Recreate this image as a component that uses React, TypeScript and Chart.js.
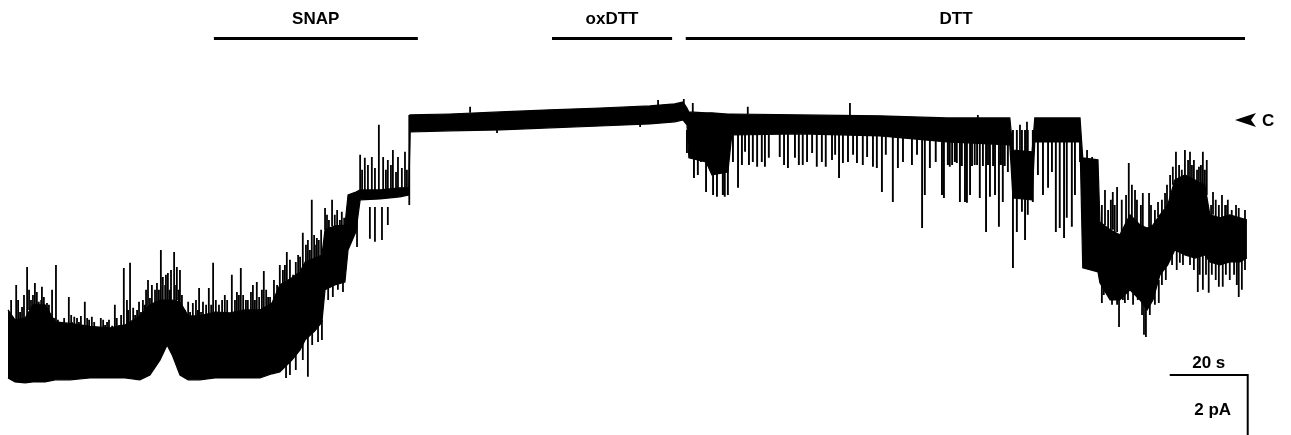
import React, { useEffect, useRef } from 'react';
import { Chart, registerables } from 'chart.js';

Chart.register(...registerables);

// ---- axis ranges (time in s, current in pA; 0 pA = closed level) ----
const timeRange = [-2.05, 329.0];
const currentRange = [-10.57, 3.93];

// ---- dense core of the recording: time, upper and lower envelope ----
const coreT = [0, 1.8, 4.4, 6.4, 9.5, 12.1, 15.9, 21.0, 26.2, 30.0, 33.8, 36.4, 39.0, 40.8, 42.1, 44.1, 46.2, 49.2, 53.1, 56.9, 60.8, 64.6, 67.7, 69.7, 72.8, 74.9, 76.2, 78.7, 80.5, 81.3, 83.8, 86.4, 87.2, 89.2, 90.3, 95.4, 100.5, 102.8, 103.1, 113.3, 126.2, 139.0, 151.8, 164.6, 171.0, 173.1, 174.1, 174.6, 179.0, 180.5, 184.6, 185.6, 203.1, 223.6, 240.8, 256.9, 257.7, 262.6, 263.3, 274.9, 275.6, 279.5, 280.0, 282.6, 285.1, 287.7, 290.3, 292.1, 293.6, 295.4, 297.4, 299.2, 301.8, 304.4, 306.9, 308.2, 310.8, 313.3, 315.9, 317.7];
const coreHi = [-6.4, -6.73, -6.67, -6.23, -6.23, -6.8, -6.85, -6.95, -7.0, -6.9, -6.6, -6.23, -6.07, -6.07, -6.07, -6.13, -6.6, -6.6, -6.47, -6.5, -6.4, -6.4, -6.17, -5.57, -5.33, -5.13, -4.8, -4.67, -4.57, -3.73, -3.6, -3.57, -2.57, -2.47, -2.4, -2.4, -2.33, -2.33, 0.1, 0.13, 0.2, 0.27, 0.33, 0.4, 0.47, 0.53, 0.33, 0.2, 0.17, 0.17, 0.13, 0.13, 0.1, 0.07, 0, 0, -1.07, -1.13, 0, 0, -1.33, -1.4, -3.47, -3.73, -3.9, -3.23, -3.57, -3.67, -3.57, -3.23, -2.9, -2.07, -1.9, -2.07, -2.23, -3.23, -3.33, -3.23, -3.33, -3.4];
const coreLo = [-8.67, -8.8, -8.83, -8.8, -8.8, -8.73, -8.73, -8.67, -8.67, -8.67, -8.73, -8.57, -8.07, -7.57, -7.9, -8.57, -8.73, -8.73, -8.67, -8.67, -8.67, -8.67, -8.53, -8.47, -8.07, -7.73, -7.4, -7.1, -6.8, -5.73, -5.57, -5.47, -4.4, -3.8, -2.73, -2.7, -2.63, -2.57, -0.47, -0.43, -0.4, -0.33, -0.27, -0.2, -0.13, -0.07, -0.23, -1.33, -1.47, -1.9, -1.8, -0.57, -0.53, -0.6, -0.8, -0.9, -2.67, -2.73, -0.8, -0.8, -5.0, -5.13, -5.5, -6.07, -6.07, -5.73, -6.07, -6.4, -6.07, -5.23, -4.9, -4.4, -4.57, -4.67, -4.57, -4.8, -4.9, -4.8, -4.8, -4.67];

// ---- flicker fringe above the many-channel baseline: [time, tip], from baselineBase ----
const baselineBase = -7.5;
const baselineFringe: number[][] = [
  [0.8, -6.07], [1.3, -6.67], [2.6, -6.07], [3.1, -6.47], [4.1, -5.9], [5.9, -6.07], [6.4, -5.9], [7.4, -5.8], [8.5, -6.07],
  [9.2, -5.97], [10.5, -6.23], [10.8, -6.57], [11.8, -6.67], [12.8, -6.73], [13.3, -6.8], [14.4, -6.67], [14.9, -6.9],
  [16.2, -6.57], [16.4, -6.8], [18.2, -6.8], [18.7, -6.6], [19.2, -6.9], [20.3, -6.67], [22.1, -6.8], [22.6, -7.0],
  [23.8, -6.67], [24.9, -6.9], [25.9, -6.73], [26.7, -6.93], [27.9, -6.67], [28.5, -6.9], [29.0, -6.57], [30.5, -6.07],
  [30.8, -6.4], [32.6, -6.57], [33.6, -6.13], [34.1, -6.47], [35.1, -6.23], [35.4, -5.73], [36.4, -6.0], [37.7, -5.73],
  [38.2, -5.5], [38.7, -5.73], [40.3, -5.57], [40.5, -5.23], [41.5, -5.73], [43.1, -5.57], [43.8, -5.73], [44.6, -5.9],
  [45.4, -6.4], [46.7, -6.47], [48.2, -6.07], [48.7, -6.4], [49.5, -6.47], [50.8, -6.23], [52.1, -6.23], [53.3, -6.07],
  [54.1, -6.23], [55.6, -5.9], [56.2, -6.07], [58.2, -6.07], [58.7, -5.8], [59.2, -5.9], [60.3, -5.9], [61.0, -6.07],
  [62.3, -5.8], [63.3, -6.07], [64.4, -5.97], [65.1, -5.73], [66.2, -5.73], [66.7, -5.97], [68.2, -5.4], [69.0, -5.57]
];

// ---- brief transitions: [time, from, to] ----
const baselineSpikes: number[][] = [
  [2.1, -6.73, -5.57], [3.6, -6.73, -6.3], [4.9, -6.73, -4.97], [5.4, -6.4, -5.73], [6.9, -6.4, -5.5],
  [7.9, -6.4, -6.13], [8.7, -6.4, -5.63], [10.0, -6.4, -6.17], [11.3, -6.9, -5.73], [12.3, -7.07, -4.9],
  [13.8, -7.13, -6.9], [15.6, -7.13, -5.97], [17.0, -7.13, -6.63], [17.7, -7.13, -6.67], [19.7, -7.23, -6.13],
  [20.8, -7.23, -6.73], [21.5, -7.23, -6.63], [23.3, -7.27, -6.97], [24.4, -7.27, -6.73], [25.4, -7.27, -6.8],
  [27.4, -7.27, -6.23], [29.7, -7.2, -5.0], [31.3, -7.2, -4.83], [32.1, -7.07, -6.33], [33.1, -6.9, -6.4],
  [34.6, -6.57, -6.07], [35.9, -6.4, -5.4], [36.9, -6.23, -5.57], [39.2, -6.07, -4.4], [39.7, -6.07, -5.3],
  [41.0, -6.07, -5.17], [41.8, -6.07, -5.07], [42.6, -6.07, -4.47], [43.3, -6.07, -4.97], [44.1, -6.13, -5.07],
  [46.2, -6.67, -6.13], [47.4, -6.67, -6.17], [49.0, -6.67, -5.67], [50.0, -6.67, -6.13]
];
const snapSpikes: number[][] = [
  [51.5, -6.57, -5.67], [52.6, -6.57, -4.83], [54.9, -6.57, -6.07], [57.4, -6.57, -5.23], [59.7, -6.47, -5.0],
  [61.5, -6.4, -6.07], [62.8, -6.4, -5.57], [63.8, -6.4, -5.47], [65.6, -6.4, -5.1], [67.2, -6.23, -5.97],
  [69.7, -5.57, -4.9], [71.5, -5.43, -4.47], [74.9, -5.13, -4.63], [75.6, -5.0, -3.83], [76.9, -7.23, -8.63],
  [77.9, -4.73, -2.73], [79.2, -4.67, -4.0], [80.5, -6.73, -7.4], [81.3, -3.73, -3.0], [83.1, -3.6, -2.73],
  [89.5, -2.97, -4.3], [90.3, -2.4, -1.23], [90.8, -2.4, -1.73], [91.5, -2.4, -1.33], [92.3, -2.4, -1.57],
  [92.8, -2.97, -4.03], [93.3, -2.4, -1.3], [94.1, -2.4, -1.67], [94.1, -2.97, -4.13], [95.1, -2.4, -0.23],
  [95.9, -2.97, -4.07], [96.2, -2.4, -1.3], [96.9, -2.4, -1.73], [97.4, -2.4, -1.4], [97.4, -2.97, -3.57],
  [98.2, -2.4, -1.57], [98.7, -2.4, -1.07], [99.5, -2.4, -1.8], [100.0, -2.4, -1.3], [101.0, -2.4, -1.67],
  [101.8, -2.4, -1.13], [102.3, -2.4, -1.73], [102.9, 0.1, -2.9]
];
const risingSpikes: number[][] = [
  [70.5, -6.73, -5.07], [71.0, -6.73, -4.9], [72.3, -6.73, -4.73], [73.1, -6.73, -5.23], [73.8, -6.73, -4.8],
  [74.4, -6.73, -4.57], [76.4, -5.9, -4.23], [76.9, -5.9, -4.07], [77.4, -5.9, -4.4], [78.5, -5.9, -3.9],
  [79.0, -5.9, -4.23], [79.7, -5.9, -4.07], [80.3, -5.9, -3.73], [81.8, -4.73, -3.23], [82.3, -4.73, -3.4],
  [83.8, -4.73, -3.23], [84.4, -4.73, -3.07], [85.1, -4.73, -3.4], [85.6, -4.73, -3.13], [86.2, -4.73, -3.33],
  [71.3, -6.73, -8.67], [72.3, -6.73, -8.57], [73.8, -6.73, -8.4], [75.6, -6.73, -8.07], [78.0, -5.73, -7.57],
  [79.5, -5.73, -7.47], [82.1, -4.57, -6.07], [83.3, -4.57, -5.97], [84.6, -4.57, -5.73], [85.9, -4.57, -5.8]
];
const plateauSpikes: number[][] = [
  [118.5, 0.17, 0.37], [125.4, -0.33, -0.5], [162.1, -0.2, -0.3], [166.7, 0.4, 0.6], [173.3, 0.47, 0.63],
  [175.6, 0.2, 0.5], [189.7, 0.13, 0.37], [215.9, 0.1, 0.5], [248.7, 0, 0.1], [259.5, -1.13, -0.23], [261.3, -1.13, -0.13]
];
const lateSpikes: number[][] = [
  [276.7, -1.57, -1.07], [278.0, -1.57, -1.3], [280.5, -5.57, -6.17], [281.3, -3.57, -2.4], [283.3, -3.73, -2.47],
  [284.4, -3.8, -2.3], [284.9, -6.0, -6.97], [286.4, -5.9, -6.17], [287.4, -3.33, -1.5], [289.0, -3.4, -2.4],
  [291.0, -3.6, -2.5], [291.3, -6.23, -7.23], [291.8, -6.23, -7.3], [292.6, -3.63, -2.5], [294.9, -3.3, -2.8],
  [295.1, -5.4, -6.17], [296.7, -3.0, -2.5], [298.7, -2.23, -1.63], [299.5, -2.07, -1.13], [300.5, -4.47, -4.83],
  [301.8, -1.9, -1.07], [303.1, -2.0, -1.13], [304.1, -2.07, -1.4], [305.1, -4.6, -5.8], [305.4, -2.13, -1.63],
  [306.4, -2.23, -1.13], [306.4, -4.57, -5.73], [307.4, -2.57, -1.4], [307.9, -4.7, -5.83], [309.0, -3.23, -2.47],
  [310.5, -4.87, -5.63], [311.3, -3.3, -2.57], [311.5, -4.87, -5.63], [312.6, -3.27, -2.9], [315.6, -4.8, -5.97],
  [316.4, -4.73, -5.73]
];
const lateFringe: number[][] = [
  [280.5, -4.6, -2.9], [282.1, -4.6, -3.07], [282.8, -4.6, -2.73], [283.8, -4.6, -2.9], [285.6, -4.6, -2.73],
  [286.7, -4.6, -2.57], [288.2, -4.6, -2.23], [289.5, -4.6, -2.73], [290.5, -4.6, -2.9], [293.1, -4.6, -2.9],
  [294.1, -4.6, -3.07], [295.9, -4.6, -2.73], [297.2, -3.6, -2.23], [298.0, -3.6, -1.9], [300.3, -3.6, -1.57],
  [301.0, -3.6, -1.73], [302.6, -3.6, -1.4], [303.6, -3.6, -1.57], [304.9, -3.6, -1.73], [305.9, -3.6, -1.57],
  [306.9, -3.6, -1.73], [308.5, -3.6, -2.9], [309.7, -3.6, -2.73], [310.5, -3.6, -2.9], [312.1, -3.6, -2.9],
  [312.8, -3.6, -2.73], [313.8, -3.6, -3.07], [314.9, -3.6, -2.9], [315.6, -3.6, -3.0], [317.2, -3.6, -3.07],
  [281.0, -4.6, -5.9], [283.1, -4.6, -6.23], [284.4, -4.6, -6.23], [285.9, -4.6, -6.07], [287.2, -4.6, -6.07],
  [288.5, -4.6, -6.23], [289.7, -4.6, -6.07], [290.8, -4.6, -6.57], [292.8, -4.6, -6.57], [294.1, -4.6, -6.23],
  [295.9, -4.6, -5.57], [296.9, -3.6, -5.4], [298.5, -3.6, -4.9], [299.7, -3.6, -5.07], [301.3, -3.6, -4.9],
  [303.1, -3.6, -4.9], [304.1, -3.6, -5.07], [305.6, -3.6, -5.23], [307.2, -3.6, -5.23], [308.7, -3.6, -5.23],
  [309.7, -3.6, -5.4], [312.3, -3.6, -5.23], [313.3, -3.6, -5.4], [314.4, -3.6, -5.23], [315.1, -3.6, -5.57],
  [317.2, -3.6, -5.07]
];

// ---- openings from the closed band during DTT: [time, current] ----
const closedBase = -0.4;
const dttEvents: number[][] = [
  [174.1, -1.17], [175.9, -2.0], [176.9, -1.9], [177.7, -1.47], [179.0, -2.47], [179.7, -1.47], [180.8, -2.57], [181.8, -2.63],
  [183.3, -2.57], [183.8, -2.63], [184.6, -2.57], [185.9, -1.47], [187.2, -2.33], [188.2, -1.57], [189.0, -1.13], [190.0, -1.57],
  [191.0, -1.47], [192.1, -1.63], [193.3, -1.47], [194.1, -1.63], [195.1, -1.33], [197.9, -1.3], [199.0, -1.57], [200.0, -1.67],
  [201.8, -1.33], [202.8, -1.57], [203.8, -1.57], [204.9, -1.47], [206.2, -1.17], [207.4, -1.63], [208.7, -1.47], [209.7, -1.63],
  [211.3, -1.4], [212.1, -1.23], [213.1, -2.0], [214.1, -1.5], [215.4, -1.47], [216.7, -1.23], [217.7, -1.5], [219.2, -1.57],
  [220.3, -1.3], [221.8, -1.63], [222.8, -1.67], [224.1, -2.47], [225.1, -1.23], [226.9, -2.8], [228.2, -1.67], [229.5, -1.47],
  [231.8, -1.57], [233.1, -1.23], [234.4, -3.67], [235.1, -2.57], [236.4, -1.67], [237.9, -1.47], [239.5, -2.57], [240.0, -2.67],
  [241.0, -1.57], [241.5, -1.63], [242.1, -1.57], [242.8, -1.47], [243.3, -1.5], [244.1, -2.8], [244.6, -1.6], [245.4, -2.8],
  [245.9, -2.83], [246.7, -2.57], [247.2, -1.6], [247.9, -1.57], [248.5, -1.57], [249.2, -2.67], [250.0, -1.6], [250.8, -3.8],
  [251.3, -1.57], [251.8, -2.63], [252.6, -1.6], [253.1, -2.57], [254.1, -3.63], [254.6, -1.57], [255.1, -2.8], [255.6, -1.6],
  [256.4, -1.8], [257.7, -5.0], [258.7, -3.8], [260.0, -3.13], [260.8, -4.07], [261.5, -3.23], [262.8, -2.8], [264.1, -1.9],
  [265.4, -2.57], [266.7, -2.33], [267.7, -1.8], [268.7, -3.8], [269.7, -3.67], [270.8, -4.0], [271.5, -3.33], [272.8, -3.63],
  [273.6, -2.57], [274.9, -1.47]
];

// ---- annotations ----
const treatmentLabels = ['SNAP', 'oxDTT', 'DTT'];
const treatmentStart = [52.8, 139.5, 173.8];
const treatmentEnd = [105.1, 170.3, 317.2];
const treatmentLabelAt = [78.9, 154.9, 243.1];
const scaleBarSeconds = 20;
const scaleBarPA = 2;
const scaleBarT0 = 297.9;
const scaleBarI0 = -8.57;
const closedLevel = -0.07;

const FONT = 'bold 17px "Liberation Sans", Arial, Helvetica, sans-serif';

const annotationPlugin = {
  id: 'traceAnnotations',
  afterDatasetsDraw(chart: any) {
    const { ctx } = chart;
    const xs = chart.scales.x;
    const ys = chart.scales.y;
    ctx.save();
    ctx.fillStyle = '#000';
    ctx.strokeStyle = '#000';
    ctx.font = FONT;
    ctx.textAlign = 'center';
    ctx.textBaseline = 'alphabetic';
    treatmentLabels.forEach((label, i) => {
      const x0 = xs.getPixelForValue(treatmentStart[i]);
      const x1 = xs.getPixelForValue(treatmentEnd[i]);
      ctx.fillRect(x0, 37, x1 - x0, 3);
      ctx.fillText(label, xs.getPixelForValue(treatmentLabelAt[i]), 24);
    });
    const sx0 = xs.getPixelForValue(scaleBarT0);
    const sx1 = xs.getPixelForValue(scaleBarT0 + scaleBarSeconds);
    const sy0 = ys.getPixelForValue(scaleBarI0);
    const sy1 = ys.getPixelForValue(scaleBarI0 - scaleBarPA);
    ctx.lineWidth = 2;
    ctx.beginPath();
    ctx.moveTo(sx0, sy0);
    ctx.lineTo(sx1, sy0);
    ctx.lineTo(sx1, sy1);
    ctx.stroke();
    ctx.fillText(`${scaleBarSeconds} s`, (sx0 + sx1) / 2, sy0 - 7);
    ctx.fillText(`${scaleBarPA} pA`, sx1 - 35, sy0 + 40);
    const ay = ys.getPixelForValue(closedLevel);
    const ax = 1235;
    ctx.beginPath();
    ctx.moveTo(ax, ay);
    ctx.lineTo(ax + 21, ay - 7);
    ctx.lineTo(ax + 16, ay);
    ctx.lineTo(ax + 21, ay + 7);
    ctx.closePath();
    ctx.fill();
    ctx.textAlign = 'left';
    ctx.fillText('C', ax + 27, ay + 6);
    ctx.restore();
  },
};

type Pt = { x: number; y: number | null };

function segments(list: number[][]): Pt[] {
  const out: Pt[] = [];
  list.forEach(([t, a, b]) => out.push({ x: t, y: a }, { x: t, y: b }, { x: t, y: null }));
  return out;
}

export default function App() {
  const canvasRef = useRef<HTMLCanvasElement | null>(null);

  useEffect(() => {
    if (!canvasRef.current) return;
    const upper = coreT.map((t, i) => ({ x: t, y: coreHi[i] }));
    const lower = coreT.map((t, i) => ({ x: t, y: coreLo[i] }));
    const spikePts = segments([
      ...baselineSpikes, ...snapSpikes, ...risingSpikes, ...plateauSpikes, ...lateSpikes, ...lateFringe,
      ...baselineFringe.map(([t, b]) => [t, baselineBase, b]),
    ]);
    const eventPts = segments(dttEvents.map(([t, b]) => [t, closedBase, b]));

    const lineDefaults = { borderColor: '#000', pointRadius: 0, fill: false, tension: 0, spanGaps: false };
    const chart = new Chart(canvasRef.current, {
      type: 'line',
      data: {
        datasets: [
          { ...lineDefaults, data: upper, borderWidth: 1.2 },
          { ...lineDefaults, data: lower, borderWidth: 1.2, fill: '-1', backgroundColor: '#000' },
          { ...lineDefaults, data: spikePts as any, borderWidth: 1.8 },
          { ...lineDefaults, data: eventPts as any, borderWidth: 1.9 },
        ],
      },
      options: {
        animation: false,
        responsive: true,
        maintainAspectRatio: false,
        devicePixelRatio: 1,
        layout: { padding: 0 },
        events: [],
        scales: {
          x: { type: 'linear', min: timeRange[0], max: timeRange[1], display: false },
          y: { type: 'linear', min: currentRange[0], max: currentRange[1], display: false },
        },
        plugins: {
          legend: { display: false },
          tooltip: { enabled: false },
          title: { display: false },
        },
      },
      plugins: [annotationPlugin],
    });
    return () => chart.destroy();
  }, []);

  return (
    <div style={{ position: 'fixed', left: 0, top: 0, width: 1291, height: 435, background: '#fff' }}>
      <canvas ref={canvasRef} />
    </div>
  );
}
